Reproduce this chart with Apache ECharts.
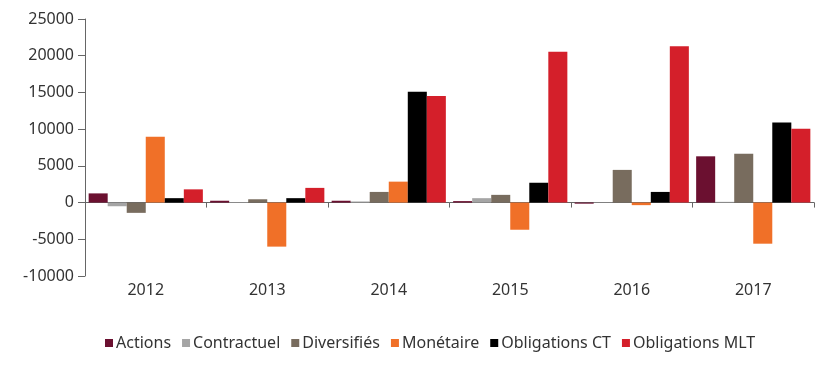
<!DOCTYPE html>
<html>
<head>
<meta charset="utf-8">
<script src="https://cdn.jsdelivr.net/npm/echarts@6/dist/echarts.min.js"></script>
<style>html,body{margin:0;padding:0;background:#fff;}#c{width:828px;height:368px;}</style>
</head>
<body>
<div id="c"></div>
<script>
var categories = ['2012', '2013', '2014', '2015', '2016', '2017'];
var seriesNames = ['Actions', 'Contractuel', 'Diversifiés', 'Monétaire', 'Obligations CT', 'Obligations MLT'];
var actions = [1250, 250, 250, 200, -150, 6300];
var contractuel = [-500, 80, 150, 600, -60, 100];
var diversifies = [-1400, 450, 1450, 1050, 4450, 6650];
var monetaire = [8950, -6000, 2850, -3700, -350, -5600];
var obligationsCT = [600, 600, 15100, 2700, 1450, 10900];
var obligationsMLT = [1800, 2000, 14500, 20550, 21300, 10050];
var yTicks = [-10000, 25000, 5000];
var colors = ['#6b1030', '#a5a5a5', '#786c5e', '#f07028', '#000000', '#d41f2a'];

var values = [actions, contractuel, diversifies, monetaire, obligationsCT, obligationsMLT];
var font = 'Noto Sans';
var chart = echarts.init(document.getElementById('c'), null, {renderer: 'canvas'});
chart.setOption({
  animation: false,
  color: colors,
  grid: {left: 85, right: 14, top: 19, bottom: 92, containLabel: false},
  legend: {
    data: seriesNames,
    bottom: 12,
    left: 100,
    icon: 'rect',
    itemWidth: 8,
    itemHeight: 8,
    itemGap: 11,
    textStyle: {fontFamily: font, fontSize: 16, color: '#333', padding: [0, 0, 0, -2]}
  },
  xAxis: [{
    type: 'category',
    data: categories,
    axisLine: {onZero: true, lineStyle: {color: '#666', width: 1}},
    axisTick: {show: true, alignWithLabel: false, length: 5, lineStyle: {color: '#666'}},
    axisLabel: {show: false}
  }, {
    type: 'category',
    data: categories,
    position: 'bottom',
    axisLine: {show: false, onZero: false},
    axisTick: {show: false},
    axisLabel: {show: true, fontFamily: font, fontSize: 16, color: '#333', margin: 6}
  }],
  yAxis: {
    type: 'value',
    min: yTicks[0],
    max: yTicks[1],
    interval: yTicks[2],
    axisLine: {show: true, lineStyle: {color: '#666'}},
    axisTick: {show: true, length: 7, lineStyle: {color: '#666'}},
    splitLine: {show: false},
    axisLabel: {fontFamily: font, fontSize: 16, color: '#333', margin: 11,
      formatter: function (v) { return String(v); }}
  },
  series: seriesNames.map(function (n, i) {
    return {
      name: n,
      type: 'bar',
      xAxisIndex: 0,
      data: values[i],
      barGap: '0%',
      barCategoryGap: '6%'
    };
  })
});
</script>
</body>
</html>
